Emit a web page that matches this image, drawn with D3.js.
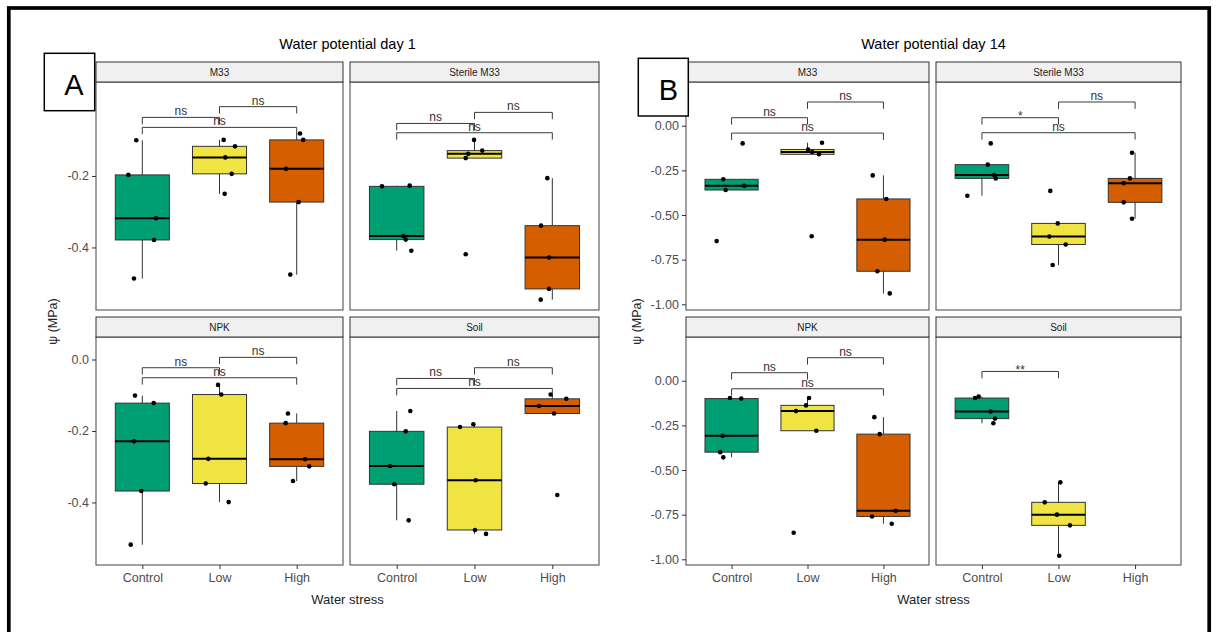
<!DOCTYPE html>
<html><head><meta charset="utf-8">
<script src="https://cdn.jsdelivr.net/npm/d3@7"></script>
<style>
body{margin:0;background:#fff;}
svg{display:block;font-family:"Liberation Sans",Arial,Helvetica,sans-serif;}
</style>
</head><body>
<svg id="c" width="1216" height="632"></svg>
<script>
// ---------------- DATA ----------------
const groups = ["Control", "Low", "High"];
const facetNames = ["M33", "Sterile M33", "NPK", "Soil"];
const yTicksDay1 = [0, -0.2, -0.4];
const yTicksDay14 = [0, -0.25, -0.5, -0.75, -1];
const yDomainDay1 = [-0.575, 0.063];
const yDomainDay14 = [-1.032, 0.245];

// water potential values (MPa) per group: [Control, Low, High]
const day1_M33 = [[-0.1, -0.197, -0.318, -0.379, -0.487], [-0.099, -0.117, -0.148, -0.194, -0.25], [-0.081, -0.099, -0.18, -0.273, -0.476]];
const day1_Sterile = [[-0.229, -0.227, -0.368, -0.378, -0.409], [-0.099, -0.129, -0.138, -0.15, -0.419], [-0.206, -0.339, -0.428, -0.516, -0.546]];
const day1_NPK = [[-0.101, -0.122, -0.229, -0.368, -0.518], [-0.071, -0.098, -0.278, -0.347, -0.399], [-0.151, -0.178, -0.279, -0.299, -0.34]];
const day1_Soil = [[-0.144, -0.201, -0.298, -0.349, -0.45], [-0.181, -0.189, -0.338, -0.477, -0.488], [-0.098, -0.11, -0.13, -0.151, -0.379]];
const day14_M33 = [[-0.099, -0.3, -0.336, -0.36, -0.646], [-0.095, -0.133, -0.147, -0.16, -0.619], [-0.278, -0.41, -0.638, -0.815, -0.939]];
const day14_Sterile = [[-0.099, -0.218, -0.276, -0.295, -0.392], [-0.365, -0.547, -0.62, -0.665, -0.78], [-0.151, -0.295, -0.322, -0.429, -0.521]];
const day14_NPK = [[-0.097, -0.1, -0.308, -0.4, -0.429], [-0.097, -0.138, -0.17, -0.28, -0.851], [-0.204, -0.299, -0.728, -0.76, -0.801]];
const day14_Soil = [[-0.088, -0.097, -0.172, -0.212, -0.238], [-0.569, -0.681, -0.75, -0.81, -0.98], []];

// jitter offsets of each point (fraction of one category step)
const day1_M33_jit = [[-0.078, -0.181, 0.177, 0.151, -0.108], [0.054, 0.201, 0.075, 0.158, 0.067], [0.043, 0.085, -0.139, 0.026, -0.083]];
const day1_Sterile_jit = [[-0.189, 0.167, 0.085, 0.116, 0.188], [-0.006, 0.1, -0.08, -0.113, -0.113], [-0.064, -0.145, -0.042, -0.042, -0.149]];
const day1_NPK_jit = [[-0.095, 0.148, -0.108, -0.013, -0.15], [-0.019, 0.023, -0.145, -0.179, 0.119], [-0.113, -0.143, 0.108, 0.163, -0.048]];
const day1_Soil_jit = [[0.175, 0.116, -0.086, -0.031, 0.154], [-0.015, -0.186, 0.015, 0.006, 0.148], [-0.021, 0.18, -0.171, 0.022, 0.064]];
const day14_M33_jit = [[0.146, -0.109, 0.167, -0.078, -0.196], [0.191, 0.007, 0.063, 0.151, 0.055], [-0.141, 0.038, 0.017, -0.08, 0.083]];
const day14_Sterile_jit = [[0.115, 0.076, 0.158, 0.18, -0.191], [-0.107, -0.01, -0.12, 0.094, -0.076], [-0.04, -0.067, -0.149, -0.149, -0.04]];
const day14_NPK_jit = [[-0.021, 0.128, -0.117, -0.149, -0.109], [0.02, -0.02, -0.151, 0.116, -0.182], [-0.12, -0.049, 0.162, -0.15, 0.109]];
const day14_Soil_jit = [[-0.043, -0.09, 0.115, 0.171, 0.149], [0.024, -0.18, -0.02, 0.15, 0.01], []];

// pairwise comparisons: [group1, group2, bracket height (MPa), label]
const day1_M33_tests = [["Control", "Low", -0.036, "ns"], ["Low", "High", -0.006, "ns"], ["Control", "High", -0.064, "ns"]];
const day1_Sterile_tests = [["Control", "Low", -0.053, "ns"], ["Low", "High", -0.022, "ns"], ["Control", "High", -0.079, "ns"]];
const day1_NPK_tests = [["Control", "Low", -0.023, "ns"], ["Low", "High", 0.006, "ns"], ["Control", "High", -0.051, "ns"]];
const day1_Soil_tests = [["Control", "Low", -0.053, "ns"], ["Low", "High", -0.023, "ns"], ["Control", "High", -0.081, "ns"]];
const day14_M33_tests = [["Control", "Low", 0.045, "ns"], ["Low", "High", 0.133, "ns"], ["Control", "High", -0.041, "ns"]];
const day14_Sterile_tests = [["Control", "Low", 0.045, "*"], ["Low", "High", 0.133, "ns"], ["Control", "High", -0.039, "ns"]];
const day14_NPK_tests = [["Control", "Low", 0.045, "ns"], ["Low", "High", 0.129, "ns"], ["Control", "High", -0.045, "ns"]];
const day14_Soil_tests = [["Control", "Low", 0.052, "**"]];

// ---------------- DRAWING ----------------
const fills = {Control: "#009E73", Low: "#F0E442", High: "#D55E00"};
const svg = d3.select("#c");
svg.append("rect").attr("width", 1216).attr("height", 632).attr("fill", "#fff");
svg.append("rect").attr("x", 8.8).attr("y", 8).attr("width", 1200.4).attr("height", 640)
  .attr("fill", "none").attr("stroke", "#000").attr("stroke-width", 3.7);

const rows = [{stripTop: 62, top: 82, bottom: 310}, {stripTop: 317, top: 337, bottom: 565}];

function drawFacet(g, f, x0, x1, row, cfg, showX, showY) {
  const x = d3.scalePoint().domain(groups).range([x0, x1]).padding(0.6);
  const y = d3.scaleLinear().domain(cfg.yDomain).range([row.bottom, row.top]);
  const step = x.step(), bw = 0.7 * step;
  const tip = 0.03 * (cfg.yDomain[1] - cfg.yDomain[0]);

  g.append("rect").attr("x", x0).attr("y", row.top).attr("width", x1 - x0).attr("height", row.bottom - row.top).attr("fill", "#fff");

  groups.forEach((gr, i) => {
    const vals = f.values[i];
    if (!vals.length) return;
    const s = vals.slice().sort(d3.ascending);
    const q1 = d3.quantileSorted(s, 0.25), med = d3.quantileSorted(s, 0.5), q3 = d3.quantileSorted(s, 0.75);
    const iqr = q3 - q1;
    const lo = d3.min(s.filter(v => v >= q1 - 1.5 * iqr));
    const hi = d3.max(s.filter(v => v <= q3 + 1.5 * iqr));
    const cx = x(gr);
    const bg = g.append("g");
    bg.append("line").attr("x1", cx).attr("x2", cx).attr("y1", y(q3)).attr("y2", y(hi)).attr("stroke", "#333").attr("stroke-width", 1);
    bg.append("line").attr("x1", cx).attr("x2", cx).attr("y1", y(q1)).attr("y2", y(lo)).attr("stroke", "#333").attr("stroke-width", 1);
    bg.append("rect").attr("x", cx - bw / 2).attr("y", y(q3)).attr("width", bw).attr("height", y(q1) - y(q3))
      .attr("fill", fills[gr]).attr("stroke", "#333").attr("stroke-width", 1);
    bg.append("line").attr("x1", cx - bw / 2).attr("x2", cx + bw / 2).attr("y1", y(med)).attr("y2", y(med))
      .attr("stroke", "#000").attr("stroke-width", 2);
  });

  groups.forEach((gr, i) => {
    f.values[i].forEach((v, j) => {
      g.append("circle").attr("cx", x(gr) + f.jitter[i][j] * step).attr("cy", y(v)).attr("r", 2.3).attr("fill", "#000");
    });
  });

  f.tests.forEach(t => {
    const xa = x(t[0]), xb = x(t[1]), yy = y(t[2]), yt = y(t[2] - tip);
    g.append("path").attr("d", `M${xa},${yt}V${yy}H${xb}V${yt}`).attr("fill", "none").attr("stroke", "#3a3a3a").attr("stroke-width", 1);
    const star = t[3].indexOf("*") >= 0;
    g.append("text").attr("x", (xa + xb) / 2).attr("y", star ? yy + 2.5 : yy - 2)
      .attr("text-anchor", "middle").attr("font-size", 12).attr("fill", "#333").text(t[3]);
  });

  g.append("rect").attr("x", x0).attr("y", row.top).attr("width", x1 - x0).attr("height", row.bottom - row.top)
    .attr("fill", "none").attr("stroke", "#555").attr("stroke-width", 1.1);
  g.append("rect").attr("x", x0).attr("y", row.stripTop).attr("width", x1 - x0).attr("height", row.top - row.stripTop)
    .attr("fill", "#f0f0f0").attr("stroke", "#333").attr("stroke-width", 1);
  g.append("text").attr("x", (x0 + x1) / 2).attr("y", row.stripTop + 13.8).attr("text-anchor", "middle")
    .attr("font-size", 10).attr("fill", "#1a1a1a").text(f.name);

  if (showY) {
    // ticks hidden behind the panel tag box (as in the original) are not drawn
    const tg = cfg.tag;
    const ticks = cfg.yTicks.filter(v => !(y(v) >= tg.y && y(v) <= tg.y + tg.h));
    const ax = g.append("g").attr("transform", `translate(${x0},0)`)
      .call(d3.axisLeft(y).tickValues(ticks).tickSize(4).tickPadding(3).tickFormat(cfg.fmt));
    ax.select(".domain").remove();
    ax.selectAll("line").attr("stroke", "#333");
    ax.selectAll("text").attr("font-size", 12.5).attr("fill", "#4d4d4d").attr("font-family", "Liberation Sans, Arial, sans-serif");
  }
  if (showX) {
    const ax = g.append("g").attr("transform", `translate(0,${row.bottom})`)
      .call(d3.axisBottom(x).tickSize(4).tickPadding(4));
    ax.select(".domain").remove();
    ax.selectAll("line").attr("stroke", "#333");
    ax.selectAll("text").attr("font-size", 12.5).attr("fill", "#4d4d4d").attr("font-family", "Liberation Sans, Arial, sans-serif");
  }
}

function drawPanel(cfg) {
  const g = svg.append("g");
  const pos = [[0, 0], [1, 0], [0, 1], [1, 1]];
  cfg.facets.forEach((f, k) => {
    const [c, r] = pos[k];
    const [x0, x1] = cfg.cols[c];
    drawFacet(g, f, x0, x1, rows[r], cfg, r === 1, c === 0);
  });
  const cx = (cfg.cols[0][0] + cfg.cols[1][1]) / 2;
  g.append("text").attr("x", cx).attr("y", 49).attr("text-anchor", "middle").attr("font-size", 14.5).attr("fill", "#000").text(cfg.title);
  g.append("text").attr("x", cx).attr("y", 603.5).attr("text-anchor", "middle").attr("font-size", 13).attr("fill", "#222").text("Water stress");
  g.append("text").attr("transform", `translate(${cfg.yTitleX},321.5) rotate(-90)`).attr("text-anchor", "middle")
    .attr("dy", "0.35em").attr("font-size", 12.5).attr("fill", "#222").text("ψ (MPa)");
  const t = cfg.tag;
  g.append("rect").attr("x", t.x).attr("y", t.y).attr("width", t.w).attr("height", t.h)
    .attr("fill", "#fff").attr("stroke", "#000").attr("stroke-width", 1.5);
  g.append("text").attr("x", t.tx).attr("y", t.ty).attr("text-anchor", "middle").attr("font-size", 29).attr("fill", "#000").text(t.label);
}

drawPanel({
  title: "Water potential day 1",
  cols: [[96, 343], [350, 599]],
  yDomain: yDomainDay1, yTicks: yTicksDay1, fmt: d => d.toFixed(1),
  yTitleX: 53,
  tag: {x: 44.3, y: 53.3, w: 50.4, h: 57.4, tx: 74, ty: 95, label: "A"},
  facets: [
    {name: facetNames[0], values: day1_M33, jitter: day1_M33_jit, tests: day1_M33_tests},
    {name: facetNames[1], values: day1_Sterile, jitter: day1_Sterile_jit, tests: day1_Sterile_tests},
    {name: facetNames[2], values: day1_NPK, jitter: day1_NPK_jit, tests: day1_NPK_tests},
    {name: facetNames[3], values: day1_Soil, jitter: day1_Soil_jit, tests: day1_Soil_tests}
  ]
});
drawPanel({
  title: "Water potential day 14",
  cols: [[686, 929], [936, 1181]],
  yDomain: yDomainDay14, yTicks: yTicksDay14, fmt: d => d.toFixed(2),
  yTitleX: 636.5,
  tag: {x: 638.3, y: 58.3, w: 50, h: 57.7, tx: 668.5, ty: 100, label: "B"},
  facets: [
    {name: facetNames[0], values: day14_M33, jitter: day14_M33_jit, tests: day14_M33_tests},
    {name: facetNames[1], values: day14_Sterile, jitter: day14_Sterile_jit, tests: day14_Sterile_tests},
    {name: facetNames[2], values: day14_NPK, jitter: day14_NPK_jit, tests: day14_NPK_tests},
    {name: facetNames[3], values: day14_Soil, jitter: day14_Soil_jit, tests: day14_Soil_tests}
  ]
});
</script>
</body></html>
